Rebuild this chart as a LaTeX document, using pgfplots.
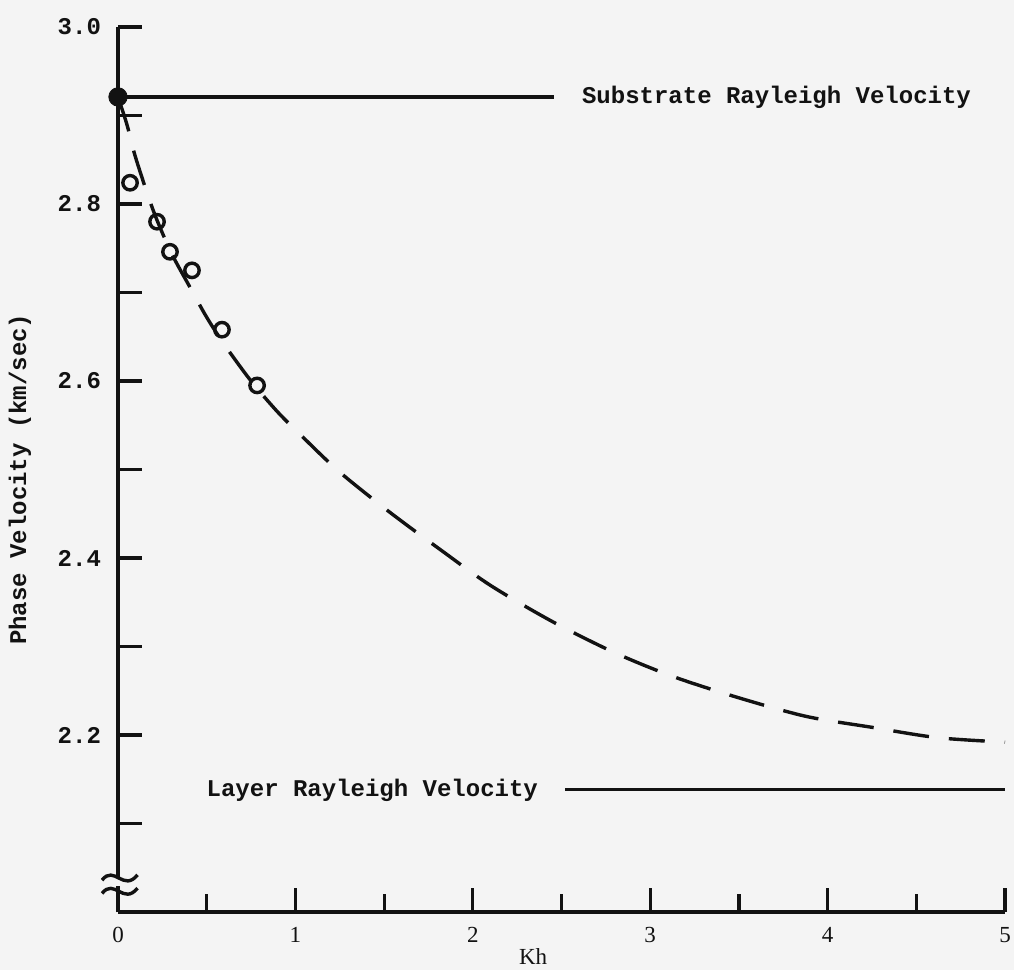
\documentclass[border=0pt]{standalone}
\usepackage{fontspec}
\setmainfont{Liberation Serif}
\newfontfamily\tw{Liberation Mono}
\usepackage{pgfplots}
\pgfplotsset{compat=1.18}
\usetikzlibrary{backgrounds}
\definecolor{bg}{RGB}{244,244,244}
\definecolor{ink}{RGB}{18,18,18}
\pgfplotstableread{
x y
0 2.921
0.05 2.89
0.1 2.852
0.2 2.792
0.3 2.745
0.4 2.708
0.5 2.672
0.6 2.641
0.75 2.600
0.9 2.565
1.04 2.537
1.25 2.497
1.53 2.452
1.82 2.409
2.1 2.369
2.45 2.328
2.8 2.293
3.13 2.266
3.5 2.242
3.88 2.221
4.24 2.209
4.62 2.197
5.0 2.192
}\curve
\pgfplotstableread{
x y
0.068 2.824
0.22 2.780
0.293 2.746
0.417 2.725
0.586 2.658
0.784 2.595
}\meas
\begin{document}
\begin{tikzpicture}
\begin{axis}[
  scale only axis, width=443.5pt, height=442.5pt,
  xmin=0, xmax=5, ymin=2, ymax=3,
  axis lines=left, axis line style={-, line width=1.8pt, ink},
  clip=false,
  xtick={0,1,2,3,4,5}, xticklabels={0,1,2,3,4,5},
  minor xtick={0.5,1.5,2.5,3.5,4.5},
  ytick={2.1,2.2,2.3,2.4,2.5,2.6,2.7,2.8,2.9,3.0},
  yticklabels={,2.2,,2.4,,2.6,,2.8,,3.0},
  tick align=inside, major tick length=12pt, minor tick length=9pt,
  tick style={line width=1.6pt, ink},
  xticklabel style={font=\fontsize{11.5}{12}\selectfont, yshift=-4pt, text=ink},
  yticklabel style={font=\tw\bfseries\fontsize{12}{12}\selectfont, xshift=-5pt, text=ink},
  ylabel={Phase Velocity (km/sec)},
  ylabel style={font=\tw\bfseries\fontsize{12}{12}\selectfont, at={(axis description cs:-0.1105,0.489)}, anchor=center, text=ink},
  xlabel={Kh},
  xlabel style={font=\fontsize{11.5}{12}\selectfont, at={(axis description cs:0.468,-0.05)}, anchor=center, text=ink},
]
\addplot[ink, line width=1.6pt] coordinates {(0,2.921) (2.46,2.921)};
\addplot[ink, line width=1.6pt] coordinates {(2.52,2.138) (5.0,2.138)};
\addplot[ink, line width=1.7pt, smooth, dash pattern=on 18pt off 10pt] table[x=x,y=y] {\curve};
\addplot[only marks, mark=o, mark size=3.6pt, ink, mark options={line width=1.7pt}] table[x=x,y=y] {\meas};
\addplot[only marks, mark=*, mark size=4.6pt, ink] coordinates {(0,2.921)};
\node[anchor=west, font=\tw\bfseries\fontsize{12}{12}\selectfont, text=ink] at (axis cs:2.576,2.921) {Substrate Rayleigh Velocity};
\node[anchor=east, font=\tw\bfseries\fontsize{12}{12}\selectfont, text=ink] at (axis cs:2.407,2.138) {Layer Rayleigh Velocity};
% axis break
\fill[bg] (axis cs:-0.03,2.029) rectangle (axis cs:0.03,2.039);
\draw[ink, line width=1.7pt] (axis cs:-0.09,2.036) .. controls (axis cs:-0.02,2.054) and (axis cs:0.03,2.022) .. (axis cs:0.11,2.042);
\draw[ink, line width=1.7pt] (axis cs:-0.09,2.021) .. controls (axis cs:-0.02,2.039) and (axis cs:0.03,2.007) .. (axis cs:0.11,2.027);
\end{axis}
\pgfresetboundingbox
\path ([shift={(-59pt,-29pt)}]current axis.south west) rectangle ([shift={(4.5pt,13.5pt)}]current axis.north east);
\begin{scope}[on background layer]
\fill[bg] ([shift={(-59pt,-29pt)}]current axis.south west) rectangle ([shift={(4.5pt,13.5pt)}]current axis.north east);
\end{scope}
\end{tikzpicture}
\end{document}
